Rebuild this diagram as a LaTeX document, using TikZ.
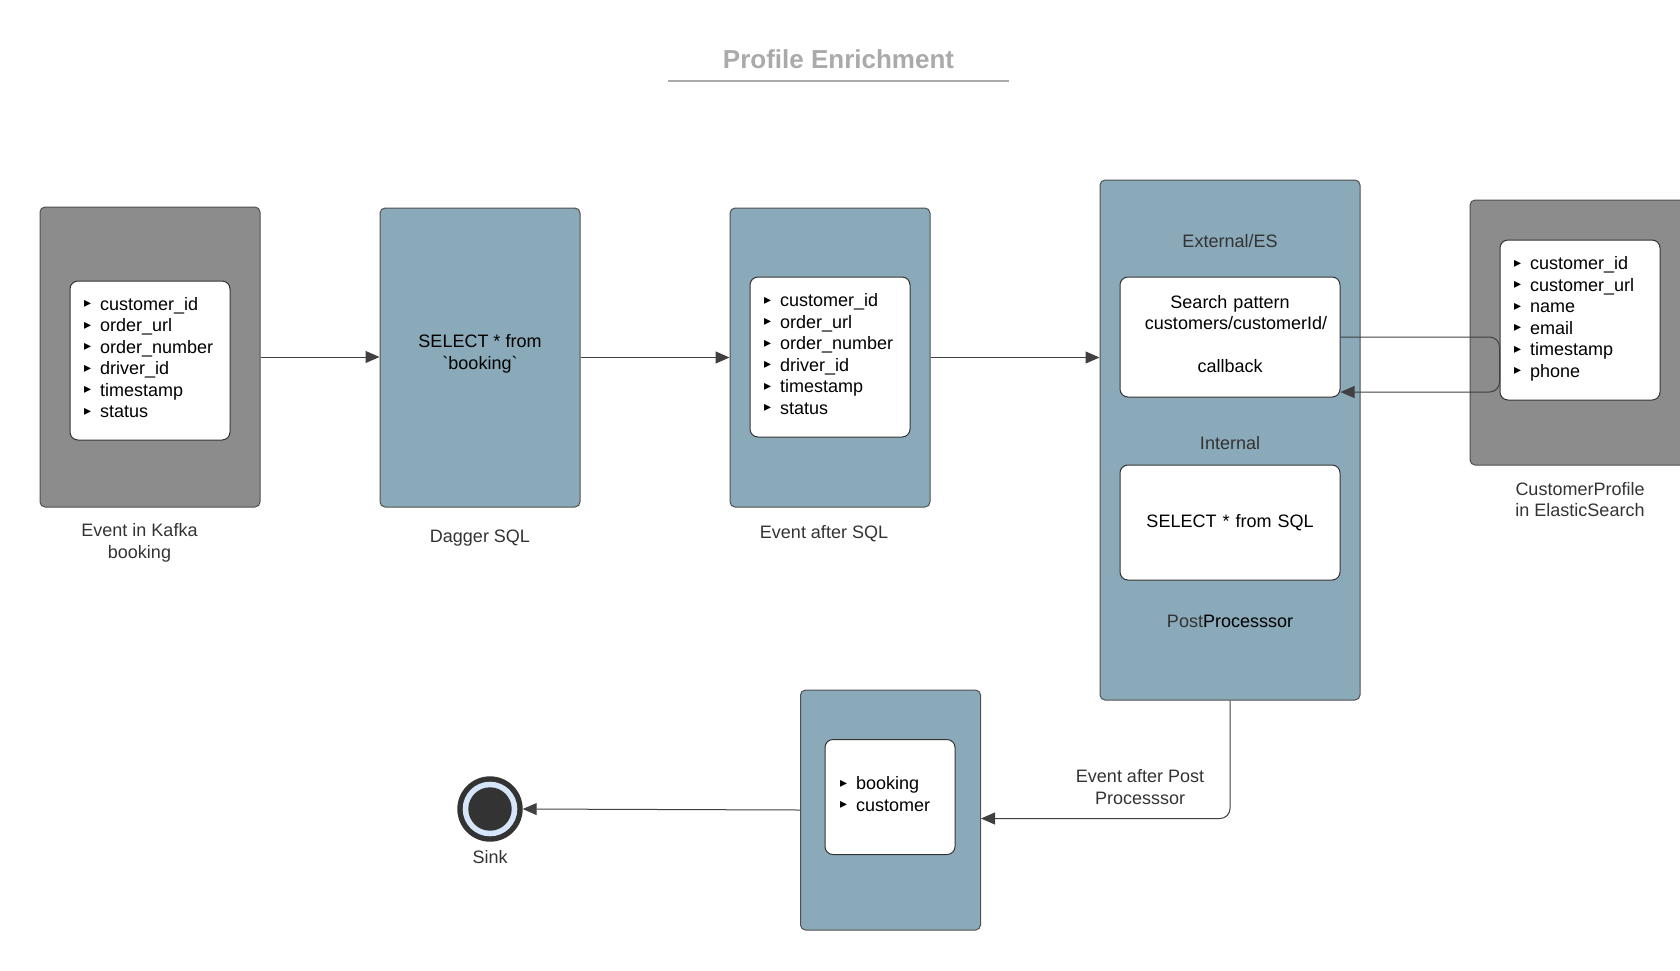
\documentclass[tikz,border=0pt]{standalone}
\usepackage{fontspec}
\setmainfont{Liberation Sans}
\newfontfamily\bulfont{DejaVu Sans}
\usetikzlibrary{arrows.meta}
\definecolor{procblue}{HTML}{8AA9B9}
\definecolor{kafkagray}{HTML}{8C8C8C}
\definecolor{boxline}{HTML}{505050}
\definecolor{fieldline}{HTML}{333333}
\definecolor{linegray}{HTML}{404040}
\definecolor{labeltext}{HTML}{333333}
\definecolor{titlegray}{HTML}{AAAAAA}
\definecolor{sinkdark}{HTML}{333333}
\definecolor{ringblue}{HTML}{D6E6FA}
\newcommand{\bul}[1]{\raisebox{1.1pt}{\bulfont\fontsize{7}{7}\selectfont ▸}\hspace{4.5pt}#1}
\tikzset{
    outerbox/.style={draw=boxline, line width=0.5pt, rounded corners=2.5pt, inner sep=0pt},
    kafkabox/.style={outerbox, fill=kafkagray},
    procbox/.style={outerbox, fill=procblue},
    fieldbox/.style={draw=fieldline, line width=0.5pt, fill=white, rounded corners=4pt,
        align=left, inner xsep=7pt, inner ysep=0pt},
    caption/.style={text=labeltext, align=center},
    sinkring/.style={circle, inner sep=0pt, outer sep=0pt},
    flow/.style={draw=linegray, line width=0.5pt, -{Triangle[length=7pt,width=6pt]}}
}
\begin{document}
\begin{tikzpicture}[x=0.5pt, y=-0.5pt, font=\fontsize{9}{10.75}\selectfont]
                \clip (0,0) rectangle (1680,970);
                \node[font=\fontsize{13}{15}\selectfont\bfseries, text=titlegray] (title) at (838.5,59) {Profile Enrichment};
                \draw[titlegray, line width=1pt] (668,81) -- (1009,81);

                \node[kafkabox, minimum width=110pt, minimum height=150pt] (kafka) at (150,357) {};
                \node[fieldbox, text width=66pt, minimum height=79.5pt] (kafkain) at (150,360.5)
                    {\bul{customer\_id}\\\bul{order\_url}\\\bul{order\_number}\\\bul{driver\_id}\\\bul{timestamp}\\\bul{status}\strut};
                \node[caption] (kafkalbl) at (139.5,543) {Event in Kafka\\booking};

                \node[procbox, minimum width=100pt, minimum height=149.5pt] (dagger) at (480,357.5) {};
                \node[align=center] (daggerq) at (480,354) {SELECT * from\\\textasciigrave booking\textasciigrave};
                \node[caption] (daggerlbl) at (480,538) {Dagger SQL};

                \node[procbox, minimum width=100pt, minimum height=149.5pt] (aftersql) at (830,357.5) {};
                \node[fieldbox, text width=66pt, minimum height=80pt] (sqlin) at (830,357)
                    {\bul{customer\_id}\\\bul{order\_url}\\\bul{order\_number}\\\bul{driver\_id}\\\bul{timestamp}\\\bul{status}\strut};
                \node[caption] (aftersqllbl) at (824,534) {Event after SQL};

                \node[procbox, minimum width=130pt, minimum height=260pt] (post) at (1230,440) {};
                \node[caption] (extlbl) at (1230,241) {External/ES};
                \node[fieldbox, align=center, inner xsep=0pt, text width=110pt, minimum height=60pt] (search) at (1230,337)
                    {Search pattern\\\hspace{6pt}customers/customerId/\\[10.75pt]callback\strut};
                \node[caption] (intlbl) at (1230,443) {Internal};
                \node[fieldbox, align=center, inner xsep=0pt, text width=110pt, minimum height=57.5pt] (internal) at (1230,522.5)
                    {SELECT * from SQL};
                \node[caption] (postlbl) at (1230,621) {Post\textcolor{black}{Processsor}};

                \node[kafkabox, minimum width=110pt, minimum height=132.5pt] (es) at (1580,332.5) {};
                \node[fieldbox, text width=66pt, minimum height=80pt] (esin) at (1580,320)
                    {\bul{customer\_id}\\\bul{customer\_url}\\\bul{name}\\\bul{email}\\\bul{timestamp}\\\bul{phone}\strut};
                \node[caption] (eslbl) at (1580,499.5) {CustomerProfile\\in ElasticSearch};

                \node[procbox, minimum width=90pt, minimum height=120pt] (result) at (890.5,810) {};
                \node[fieldbox, inner xsep=7.5pt, text width=50pt, minimum height=57.5pt] (resin) at (890,797)
                    {\bul{booking}\\\bul{customer}\strut};
                \node[caption] (postout) at (1140,787) {Event after Post\\Processsor};

                \node[sinkring, fill=sinkdark, minimum size=32.7pt] (sink) at (490,809) {};
                \node[sinkring, fill=ringblue, minimum size=27.3pt] (sinkmid) at (sink) {};
                \node[sinkring, fill=sinkdark, minimum size=21.7pt] (sinkcore) at (sink) {};
                \node[caption] (sinklbl) at (490,857) {Sink};

                \draw[flow] (kafka.east) -- (kafka.east -| dagger.west);
                \draw[flow] (dagger.east) -- (aftersql.west);
                \draw[flow] (aftersql.east) -- (aftersql.east -| post.west);
                \draw[flow, rounded corners=5pt] (search.east) -- (search.east -| esin.west) |- ([yshift=-27.5pt]search.east);
                \draw[flow, rounded corners=5pt] (post.south) |- ([yshift=-4.25pt]result.east);
                \draw[flow] (result.west) -- (sink.east);
            \end{tikzpicture}
\end{document}
